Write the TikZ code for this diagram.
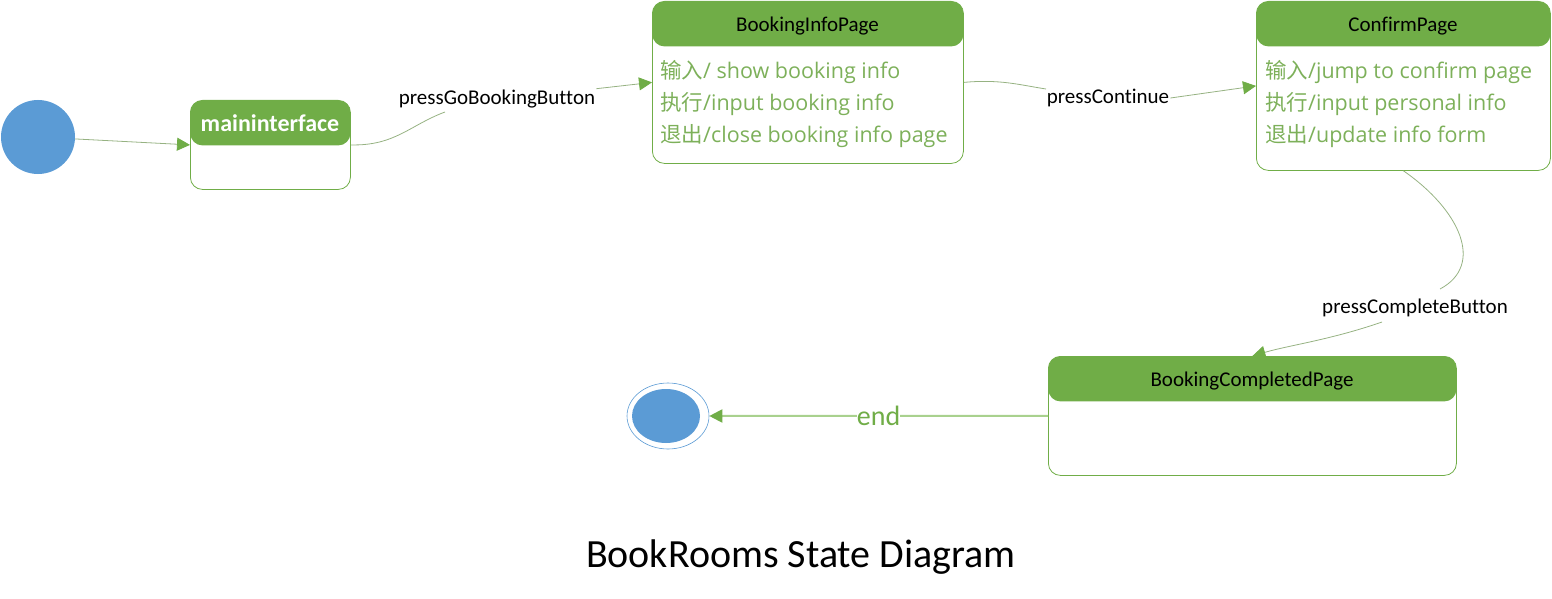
\documentclass[tikz,border=0pt]{standalone}
\usepackage{fontspec}
\setmainfont{Carlito}[Ligatures=NoCommon]
\newfontfamily\cjk{Noto Sans CJK SC}
\newfontfamily\bodylat{Open Sans}
\usetikzlibrary{arrows.meta,shapes.geometric,calc}
\definecolor{gr}{RGB}{112,173,71}
\definecolor{bodytxt}{RGB}{125,176,90}
\definecolor{conn}{RGB}{150,178,130}
\definecolor{endline}{RGB}{169,209,142}
\definecolor{bl}{RGB}{91,155,213}
\newcommand{\zh}[1]{{\cjk #1}}
\begin{document}
\begin{tikzpicture}[x=1pt,y=-1pt,
  statebox/.style={draw=gr, line width=0.8pt, rounded corners=12pt, anchor=north west,
    inner sep=0pt, path picture={\fill[gr] (path picture bounding box.north west) rectangle ([yshift=-45pt]path picture bounding box.north east);}},
  headtxt/.style={font=\fontsize{21}{24}\selectfont, text=black},
  bodytext/.style={font=\bodylat\fontsize{21.5}{32}\selectfont, text=bodytxt, align=left, anchor=west, inner sep=0pt},
  lbl/.style={font=\fontsize{21}{24}\selectfont, text=black, inner sep=1pt},
  connline/.style={draw=conn, line width=0.8pt},
  tip/.style={-{Triangle[length=13pt,width=13pt,fill=gr,color=gr]}}
]
\useasboundingbox (0,0) rectangle (1552,599);

% initial and final states
\node[circle, fill=bl, minimum size=74pt, inner sep=0pt] (init) at (38,137) {};
\node[ellipse, draw=bl, line width=0.6pt, fill=white, minimum width=82pt, minimum height=66pt, inner sep=0pt] (fin) at (668,416) {};
\node[ellipse, fill=bl, minimum width=68pt, minimum height=54pt, inner sep=0pt] (finin) at (666,416) {};

% states
\node[statebox, minimum width=160pt, minimum height=89pt] (mi) at (190,100) {};
\node[font=\bfseries\fontsize{24}{28}\selectfont, text=white] (mit) at (270,123) {maininterface};

\node[statebox, minimum width=311pt, minimum height=162pt] (bip) at (652,1) {};
\node[headtxt] (bipt) at (807.5,26) {BookingInfoPage};
\node[bodytext] (bipb) at (660,104) {\zh{输入}/ show booking info\\\zh{执行}/input booking info\\\zh{退出}/close booking info page};

\node[statebox, minimum width=294pt, minimum height=169pt] (cp) at (1256,1) {};
\node[headtxt] (cpt) at (1403,26) {ConfirmPage};
\node[bodytext] (cpb) at (1265,104) {\zh{输入}/jump to confirm page\\\zh{执行}/input personal info\\\zh{退出}/update info form};

\node[statebox, minimum width=408pt, minimum height=119pt] (bcp) at (1048,356) {};
\node[headtxt] (bcpt) at (1252,381) {BookingCompletedPage};

% labels
\node[lbl] (l1) at (497,99) {pressGoBookingButton};
\node[lbl] (l2) at (1108,98) {pressContinue};
\node[lbl] (l3) at (1415,308) {pressCompleteButton};
\coordinate (c1) at (445,112);
\coordinate (c2) at (1046,89);
\coordinate (c3) at (1440,289);
\coordinate (c4) at (1382,322);

% connectors
\draw[connline, tip] (init) -- (mi.west);
\draw[connline] (mi.east) .. controls (395,146) and (410,125) .. (c1);
\draw[connline, tip] (l1.north east) -- (bip.west);
\draw[connline] (bip.east) .. controls (1000,79) and (1020,85) .. (c2);
\draw[connline, tip] (l2.east) -- (cp.west);
\draw[connline] (cp.south) .. controls (1460,210) and (1485,265) .. (c3);
\draw[connline, tip] (c4) .. controls (1330,340) and (1290,345) .. (bcp.north);
\draw[draw=endline, line width=2pt, tip] (bcp.west) -- node[fill=white, inner sep=0pt, text=gr, font=\fontsize{28}{32}\selectfont] (l4) {end} (fin.east);

% title
\node[font=\fontsize{40}{46}\selectfont] (title) at (801,557) {BookRooms State Diagram};
\end{tikzpicture}
\end{document}
